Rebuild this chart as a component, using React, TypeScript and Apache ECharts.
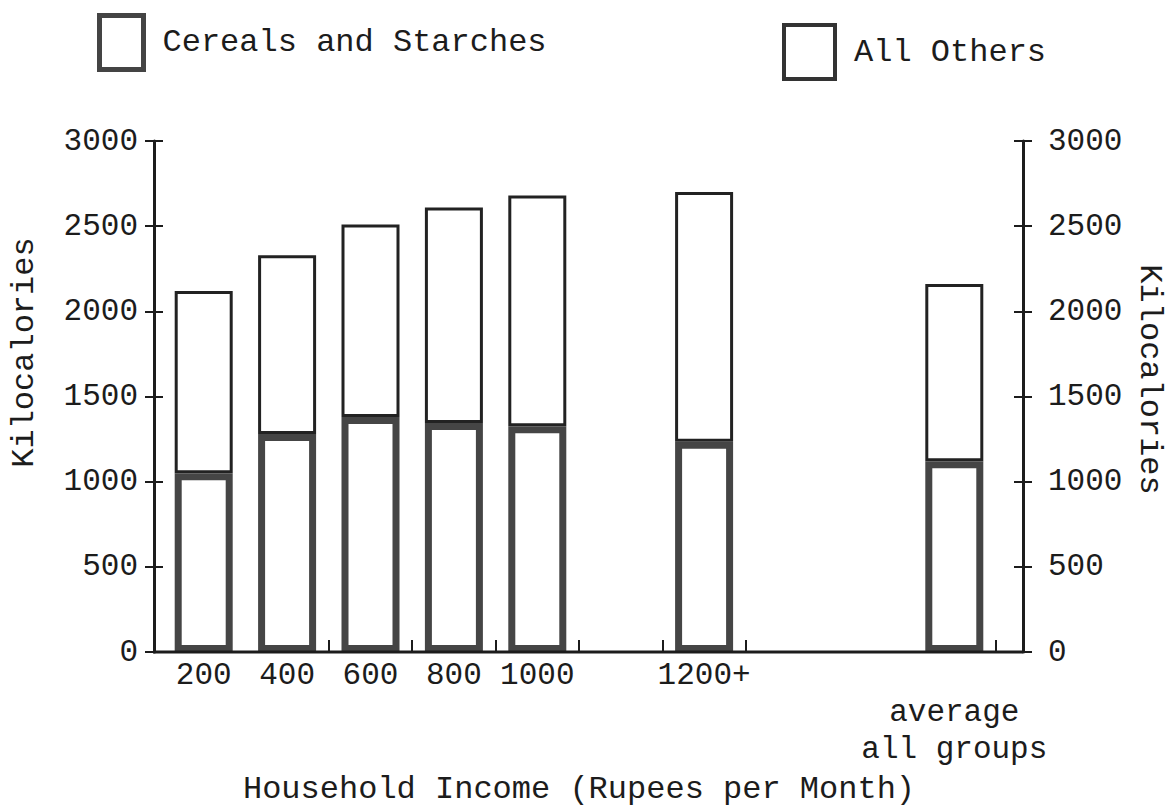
import React, { useEffect, useRef } from "react";
import * as echarts from "echarts";

// ---- data ----
const categories = ["200", "400", "600", "800", "1000", "", "1200+", "", "", "average\nall groups"];
const cerealsAndStarches = [1050, 1280, 1380, 1345, 1325, null, 1235, null, null, 1120];
const allOthers = [1070, 1050, 1130, 1265, 1355, null, 1465, null, null, 1040];
const yTicks = [0, 500, 1000, 1500, 2000, 2500, 3000];

// ---- layout ----
const W = 1175;
const H = 810;
const GRID_LEFT = 161;
const GRID_RIGHT_X = 996;
const GRID_TOP = 141;
const GRID_BOTTOM_Y = 674;
const LEFT_AXIS_X = 153;
const RIGHT_AXIS_X = 1023;
const FONT = "'Liberation Mono', 'DejaVu Sans Mono', monospace";
const INK = "#1c1c1c";

export default function App() {
  const ref = useRef<HTMLDivElement>(null);

  useEffect(() => {
    if (!ref.current) return;
    const chart = echarts.init(ref.current, undefined, { renderer: "svg" });

    const yMin = yTicks[0];
    const yMax = yTicks[yTicks.length - 1];
    const yStep = yTicks[1] - yTicks[0];
    const plain = (v: number) => String(v);

    const baseY = {
      type: "value" as const,
      min: yMin,
      max: yMax,
      interval: yStep,
      splitLine: { show: false },
    };

    chart.setOption({
      animation: false,
      backgroundColor: "#ffffff",
      textStyle: { fontFamily: FONT, color: INK },
      legend: [
        {
          data: [
            {
              name: "Cereals and Starches",
              itemStyle: { color: "#fff", borderColor: "#444", borderWidth: 5 },
            },
          ],
          left: 92,
          top: 8,
          itemWidth: 44,
          itemHeight: 54,
          icon: "rect",
          textStyle: { fontFamily: FONT, fontSize: 32, color: INK, padding: [16, 0, 0, 14] },
          selectedMode: false,
        },
        {
          data: [
            {
              name: "All Others",
              itemStyle: { color: "#fff", borderColor: "#333", borderWidth: 4 },
            },
          ],
          left: 777,
          top: 18,
          itemWidth: 51,
          itemHeight: 54,
          icon: "rect",
          textStyle: { fontFamily: FONT, fontSize: 32, color: INK, padding: [16, 0, 0, 14] },
          selectedMode: false,
        },
      ],
      grid: {
        left: GRID_LEFT,
        right: W - GRID_RIGHT_X,
        top: GRID_TOP,
        bottom: H - GRID_BOTTOM_Y,
        containLabel: false,
      },
      xAxis: {
        type: "category",
        data: categories,
        boundaryGap: true,
        axisLine: { show: false },
        axisTick: {
          show: true,
          inside: true,
          length: 12,
          interval: (index: number) => index >= 2 && index <= 7,
          lineStyle: { color: INK, width: 2 },
        },
        axisLabel: {
          interval: 0,
          fontFamily: FONT,
          fontSize: 31,
          color: INK,
          margin: 5,
          lineHeight: 37,
          formatter: (v: string) => (v.indexOf("average") === 0 ? "\n" + v : v),
        },
        name: "Household Income (Rupees per Month)",
        nameLocation: "middle",
        nameGap: 95,
        nameTextStyle: { fontFamily: FONT, fontSize: 32, color: INK },
      },
      yAxis: [
        {
          ...baseY,
          position: "left",
          offset: GRID_LEFT - LEFT_AXIS_X,
          axisLine: { show: true, lineStyle: { color: INK, width: 3 } },
          axisTick: { show: true, length: 9, lineStyle: { color: INK, width: 2 } },
          axisLabel: { fontFamily: FONT, fontSize: 31, color: INK, margin: 16, formatter: plain },
          name: "Kilocalories",
          nameLocation: "middle",
          nameRotate: 90,
          nameGap: 114,
          nameTextStyle: { fontFamily: FONT, fontSize: 32, color: INK, padding: [0, 0, 0, 88] },
        },
        {
          ...baseY,
          position: "right",
          offset: RIGHT_AXIS_X - GRID_RIGHT_X,
          axisLine: { show: true, lineStyle: { color: INK, width: 3 } },
          axisTick: { show: true, length: 9, lineStyle: { color: INK, width: 2 } },
          axisLabel: { fontFamily: FONT, fontSize: 31, color: INK, margin: 25, formatter: plain },
          name: "Kilocalories",
          nameLocation: "middle",
          nameRotate: -90,
          nameGap: 109,
          nameTextStyle: { fontFamily: FONT, fontSize: 32, color: INK, padding: [0, 34, 0, 0] },
        },
        {
          ...baseY,
          position: "left",
          offset: GRID_LEFT - LEFT_AXIS_X,
          axisLine: { show: false },
          axisLabel: { show: false },
          axisTick: { show: true, inside: true, length: 9, lineStyle: { color: INK, width: 2 } },
        },
        {
          ...baseY,
          position: "right",
          offset: RIGHT_AXIS_X - GRID_RIGHT_X,
          axisLine: { show: false },
          axisLabel: { show: false },
          axisTick: { show: true, inside: true, length: 9, lineStyle: { color: INK, width: 2 } },
        },
      ],
      series: [
        {
          name: "Cereals and Starches",
          type: "bar",
          stack: "total",
          yAxisIndex: 0,
          barWidth: 58,
          data: cerealsAndStarches,
          itemStyle: { color: "#ffffff", borderColor: "#454545", borderWidth: 7 },
          z: 3,
        },
        {
          name: "All Others",
          type: "bar",
          stack: "total",
          yAxisIndex: 0,
          barWidth: 58,
          data: allOthers,
          itemStyle: { color: "#ffffff", borderColor: "#222222", borderWidth: 3 },
          z: 2,
        },
      ],
    });

    const y0 = chart.convertToPixel({ yAxisIndex: 0 }, 0) as number;
    chart.setOption({
      graphic: [
        {
          type: "line",
          z: 10,
          shape: { x1: LEFT_AXIS_X, y1: y0, x2: RIGHT_AXIS_X, y2: y0 },
          style: { stroke: INK, lineWidth: 3 },
        },
      ],
    });

    return () => chart.dispose();
  }, []);

  return (
    <div
      ref={ref}
      style={{ position: "fixed", left: 0, top: 0, width: W, height: H, background: "#fff" }}
    />
  );
}
